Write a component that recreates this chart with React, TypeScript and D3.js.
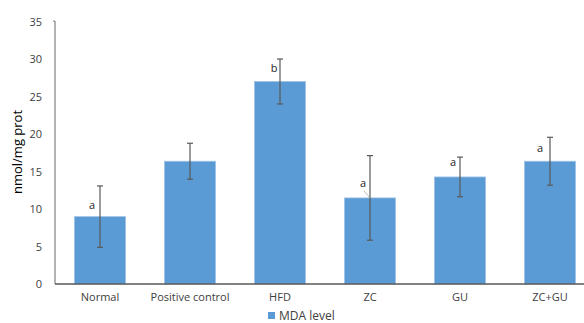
import React from "react";
import * as d3 from "d3";

const categories = ["Normal", "Positive control", "HFD", "ZC", "GU", "ZC+GU"];
const values = [9.0, 16.4, 27.05, 11.5, 14.3, 16.4];
const errors = [4.1, 2.4, 3.0, 5.65, 2.65, 3.2];
const letters = ["a", "", "b", "a", "a", "a"];
const yTicks = [0, 5, 10, 15, 20, 25, 30, 35];
const seriesName = "MDA level";
const yTitle = "nmol/mg prot";

const W = 584;
const H = 323;
const left = 55;
const right = 595;
const top = 22;
const bottom = 284;

export default function App() {
  const x = d3.scaleBand<string>().domain(categories).range([left, right]).paddingInner(0.433).paddingOuter(0.2165);
  const y = d3.scaleLinear().domain([0, 35]).range([bottom, top]);
  const font = "'Open Sans', 'Liberation Sans', sans-serif";
  const cap = 3;
  return (
    <svg width={W} height={H} style={{ position: "absolute", left: 0, top: 0 }} fontFamily={font}>
      <rect x={0} y={0} width={W} height={H} fill="#fff" />
      {categories.map((c, i) => {
        const bx = x(c)!;
        const cx = bx + x.bandwidth() / 2;
        const v = values[i];
        const e = errors[i];
        return (
          <g key={c}>
            <rect x={bx} y={y(v)} width={x.bandwidth()} height={y(0) - y(v)} fill="#5B9BD5" stroke="#9DC3E6" strokeWidth={0.8} />
            <line x1={cx} x2={cx} y1={y(v + e)} y2={y(v - e)} stroke="#595959" strokeWidth={1.2} />
            <line x1={cx - cap} x2={cx + cap} y1={y(v + e)} y2={y(v + e)} stroke="#595959" strokeWidth={1.2} />
            <line x1={cx - cap} x2={cx + cap} y1={y(v - e)} y2={y(v - e)} stroke="#595959" strokeWidth={1.2} />
            <text x={cx} y={bottom + 17} textAnchor="middle" fontSize={11} fill="#404040">{c}</text>
          </g>
        );
      })}
      {/* significance letters */}
      {categories.map((c, i) => {
        if (!letters[i]) return null;
        const cx = x(c)! + x.bandwidth() / 2;
        const v = values[i];
        const e = errors[i];
        let lx = cx - 8;
        let ly = y(v + e) + 14;
        if (i === 0) { lx = cx - 8; ly = y(v) - 8; }
        if (i === 2) { lx = cx - 6; ly = y(v + e) + 13; }
        if (i === 3) { lx = cx - 7; ly = y(v) - 11; }
        if (i === 4) { lx = cx - 7; ly = y(v + e) + 9; }
        if (i === 5) { lx = cx - 10; ly = y(v + e) + 15; }
        return (
          <g key={"l" + c}>
            <text x={lx} y={ly} textAnchor="middle" fontSize={11} fill="#262626">{letters[i]}</text>
            {i === 3 && <line x1={lx + 1} y1={ly + 4} x2={cx} y2={y(v)} stroke="#A6A6A6" strokeWidth={0.8} />}
          </g>
        );
      })}
      {/* axes */}
      <line x1={left} x2={left} y1={top - 1} y2={bottom} stroke="#7F7F7F" strokeWidth={1.2} />
      <line x1={left - 2} x2={left} y1={top - 1} y2={top - 1} stroke="#7F7F7F" strokeWidth={1} />
      <line x1={left} x2={W} y1={bottom} y2={bottom} stroke="#595959" strokeWidth={1.5} />
      {yTicks.map((t) => (
        <text key={t} x={left - 13} y={y(t) + 4} textAnchor="end" fontSize={11} fill="#404040">{t}</text>
      ))}
      <text transform={`translate(22,152) rotate(-90)`} textAnchor="middle" fontSize={13} fill="#000">{yTitle}</text>
      {/* legend */}
      <rect x={268} y={312} width={7} height={7} fill="#5B9BD5" />
      <text x={279} y={320} fontSize={12} fill="#404040">{seriesName}</text>
    </svg>
  );
}
